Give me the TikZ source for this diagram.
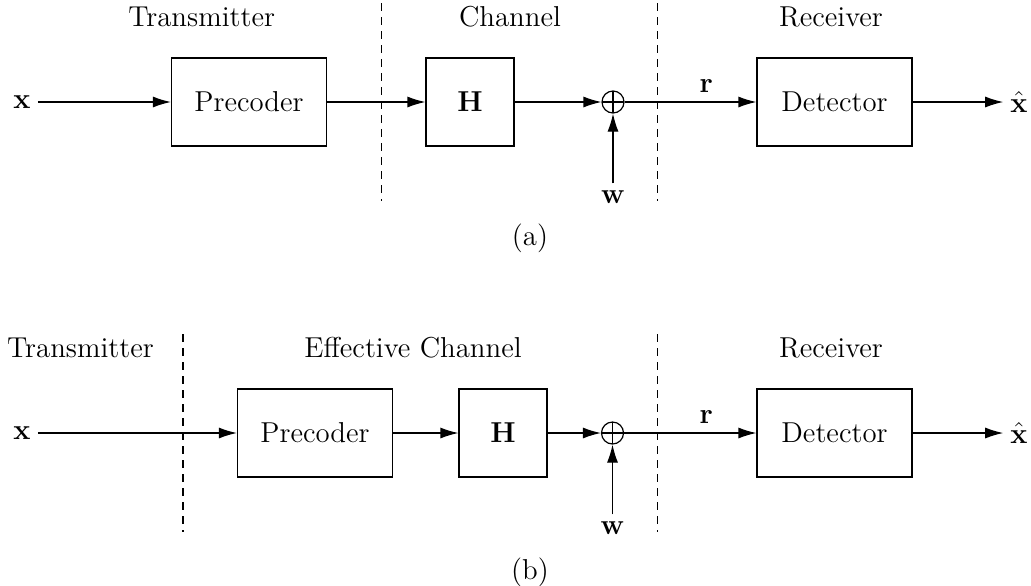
\documentclass[tikz,border=0pt]{standalone}
\usepackage{amsmath,amssymb}
\usetikzlibrary{arrows.meta,positioning}

\tikzset{
  blk/.style={draw, line width=0.6pt, minimum width=77.5pt, minimum height=44pt, inner sep=0pt},
  sq/.style={blk, minimum width=44pt},
  adder/.style={circle, draw, line width=0.6pt, minimum size=11pt, inner sep=0pt,
    path picture={\draw[line width=0.6pt] (path picture bounding box.north) -- (path picture bounding box.south)
      (path picture bounding box.west) -- (path picture bounding box.east);}},
  sep/.style={dashed, dash pattern=on 4pt off 3pt, line width=0.6pt}
}

\begin{document}
\begin{tikzpicture}[x=0.5pt, y=-0.5pt, on grid, auto, line width=0.6pt,
  >={Latex[length=9pt,width=5.5pt]}, font=\fontsize{14.4}{17}\selectfont]
\useasboundingbox (0,0) rectangle (1031,585);

% (a)
\node (xa) at (22,102) {$\mathbf{x}$};
\node[blk] (pra) [right=113.5pt of xa] {Precoder}; \node[sq] (Ha) [right=110.5pt of pra] {$\mathbf{H}$};
\node[adder] (suma) [right=71.5pt of Ha] {}; \node[blk] (deta) [right=110.75pt of suma] {Detector};
\node (xhata) [right=92.25pt of deta] {$\hat{\mathbf{x}}$}; \node (wa) [below=47.5pt of suma] {$\mathbf{w}$};
\path[->] (xa) edge (pra) (pra) edge (Ha) (Ha) edge (suma) (wa) edge (suma)
          (suma) edge node[pos=0.62, above=1pt] {$\mathbf{r}$} (deta) (deta) edge (xhata);
\node at (201.7,17) {Transmitter}; \node at (510,17) {Channel}; \node at (831,17) {Receiver};
\draw[sep] (381.7,3) -- (381.7,201); \draw[sep] (657.7,3) -- (657.7,201);
\node at (530,238) {(a)};

% (b)
\node (xb) at (22,433) {$\mathbf{x}$};
\node[blk] (prb) [right=146.5pt of xb] {Precoder}; \node[sq] (Hb) [right=94pt of prb] {$\mathbf{H}$};
\node[adder] (sumb) [right=54.75pt of Hb] {}; \node[blk] (detb) [right=111pt of sumb] {Detector};
\node (xhatb) [right=92.25pt of detb] {$\hat{\mathbf{x}}$}; \node (wb) [below=47.5pt of sumb] {$\mathbf{w}$};
\path[->] (xb) edge (prb) (prb) edge (Hb) (Hb) edge (sumb) (wb) edge (sumb)
          (sumb) edge node[pos=0.62, above=1pt] {$\mathbf{r}$} (detb) (detb) edge (xhatb);
\node at (80.5,348) {Transmitter}; \node at (413,348) {Effective Channel}; \node at (831,348) {Receiver};
\draw[sep] (183,334) -- (183,532); \draw[sep] (657.7,334) -- (657.7,532);
\node at (530,572) {(b)};
\end{tikzpicture}
\end{document}
